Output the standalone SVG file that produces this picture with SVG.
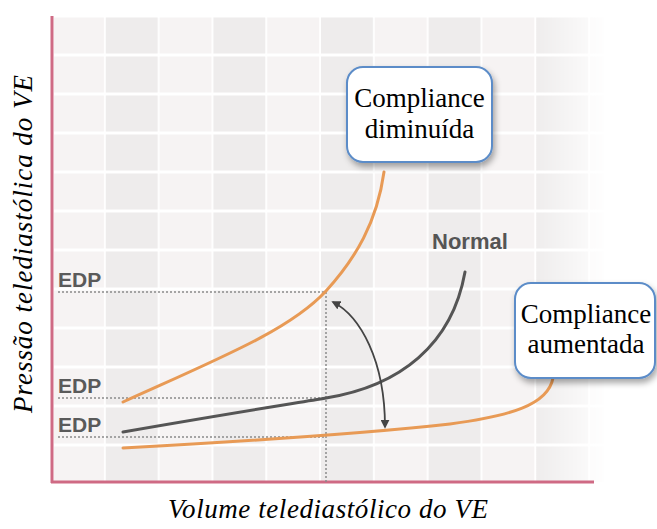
<svg xmlns="http://www.w3.org/2000/svg" width="657" height="529" viewBox="0 0 657 529">
  <defs>
    <style>
      .cell-a { fill: #f6f3f3; }
      .cell-b { fill: #eeecec; }
      .axis { stroke: #cf6a84; stroke-width: 3; fill: none; }
      .dot { stroke: #8a8a8a; stroke-width: 1.5; stroke-dasharray: 2 2; fill: none; }
      .orange { stroke: #e89a55; stroke-width: 3; fill: none; stroke-linecap: round; }
      .normal { stroke: #555555; stroke-width: 3; fill: none; stroke-linecap: round; }
      .edp { font-family: "Liberation Sans", Arial, sans-serif; font-weight: bold; font-size: 21px; fill: #5a5a5a; }
      .box { fill: #ffffff; stroke: #5b8cc8; stroke-width: 2; }
      .boxtext { font-family: "Liberation Serif", "Times New Roman", serif; font-size: 27px; fill: #000; text-anchor: middle; }
      .axtext { font-family: "Liberation Serif", "Times New Roman", serif; font-style: italic; font-size: 27px; fill: #000; text-anchor: middle; }
    </style>
    <pattern id="grid" patternUnits="userSpaceOnUse" x="52" y="16" width="107.6" height="39">
      <rect x="0" y="1.5" width="52" height="36" class="cell-a"/>
      <rect x="53.8" y="1.5" width="52" height="36" class="cell-b"/>
    </pattern>
    <linearGradient id="fadeX" x1="0" y1="0" x2="1" y2="0">
      <stop offset="0" stop-color="#fff"/>
      <stop offset="0.86" stop-color="#fff"/>
      <stop offset="1" stop-color="#000"/>
    </linearGradient>
    <mask id="fade" maskUnits="userSpaceOnUse" x="52" y="0" width="560" height="490">
      <rect x="52" y="0" width="560" height="490" fill="url(#fadeX)"/>
    </mask>
    <filter id="shadow" x="-20%" y="-20%" width="150%" height="150%">
      <feDropShadow dx="2" dy="4" stdDeviation="3" flood-color="#000" flood-opacity="0.35"/>
    </filter>
    <marker id="ah" viewBox="0 0 10 10" refX="8" refY="5" markerWidth="5" markerHeight="5" orient="auto-start-reverse">
      <path d="M0,0 L10,5 L0,10 z" fill="#444"/>
    </marker>
  </defs>

  <rect x="0" y="0" width="657" height="529" fill="#ffffff"/>

  <g id="grid-bg" mask="url(#fade)">
    <rect x="54" y="16" width="550" height="466" fill="url(#grid)"/>
  </g>

  <g id="axes">
    <line class="axis" x1="52" y1="16" x2="52" y2="483"/>
    <line class="axis" x1="51" y1="482" x2="594" y2="482"/>
  </g>

  <g id="connectors">
    <line class="dot" x1="58" y1="292" x2="326" y2="292"/>
    <line class="dot" x1="58" y1="398" x2="326" y2="398"/>
    <line class="dot" x1="58" y1="437" x2="326" y2="437"/>
    <line class="dot" x1="326" y1="292" x2="326" y2="482"/>
    <path id="curve-decreased" class="orange" d="M123,402 C220,358 290,330 326,291 C356,258 377,222 384,172"/>
    <path id="curve-normal" class="normal" d="M123,432 C220,415 290,404 326,398 C400,386 452,345 465,272"/>
    <path id="curve-increased" class="orange" d="M123,448 C250,441 370,433 450,424 C510,416 548,405 553,378"/>
    <path id="change-arrow" d="M333,302 C360,316 385,360 385,427" stroke="#444" stroke-width="1.8" fill="none" marker-start="url(#ah)" marker-end="url(#ah)"/>
  </g>

  <g id="edp-labels">
    <text class="edp" x="58" y="287">EDP</text>
    <text class="edp" x="58" y="393">EDP</text>
    <text class="edp" x="58" y="432">EDP</text>
  </g>

  <g id="label-normal">
    <text x="432" y="249" font-family="Liberation Sans, Arial, sans-serif" font-weight="bold" font-size="22" fill="#555">Normal</text>
  </g>

  <g id="box-decreased">
    <rect class="box" x="347" y="67" width="145" height="95" rx="16" filter="url(#shadow)"/>
    <text class="boxtext" x="419.5" y="107">Compliance</text>
    <text class="boxtext" x="419.5" y="138">diminuída</text>
  </g>

  <g id="box-increased">
    <rect class="box" x="515" y="283" width="140" height="95" rx="16" filter="url(#shadow)"/>
    <text class="boxtext" x="586" y="323">Compliance</text>
    <text class="boxtext" x="586" y="353">aumentada</text>
  </g>

  <g id="axis-labels">
    <text class="axtext" x="328" y="518" textLength="320" lengthAdjust="spacing">Volume telediastólico do VE</text>
    <text class="axtext" transform="translate(32,244) rotate(-90)" x="0" y="0" textLength="338" lengthAdjust="spacing">Pressão telediastólica do VE</text>
  </g>
</svg>
